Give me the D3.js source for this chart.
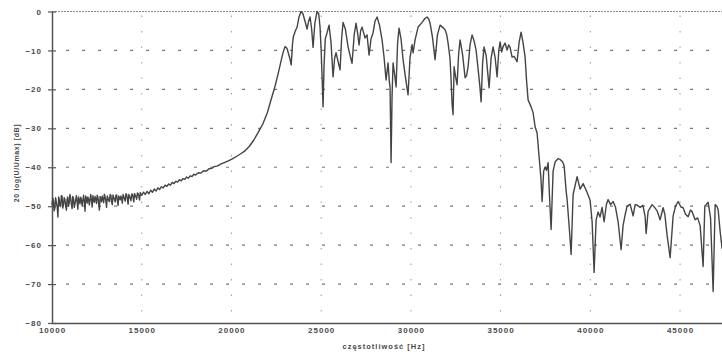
<!DOCTYPE html>
<html>
<head>
<meta charset="utf-8">
<script src="https://cdn.jsdelivr.net/npm/d3@7"></script>
<style>
  body { margin: 0; background: #fff; }
  svg text { font-family: "Liberation Sans", Arial, sans-serif; font-weight: bold; fill: #4a4a4a; }
</style>
</head>
<body>
<div id="chart"></div>
<script>
// frequency [Hz], level [dB]
var lowStop = [
  [10000,-49.8],[10040,-47.9],[10080,-48.6],[10120,-51.2],[10160,-50.4],[10200,-47.8],[10240,-49.0],[10290,-50.2],
  [10330,-52.8],[10370,-47.6],[10400,-48.2],[10440,-49.9],[10480,-50.1],[10520,-47.3],[10560,-47.4],[10600,-50.5],
  [10640,-49.6],[10680,-47.8],[10720,-48.3],[10760,-49.9],[10800,-51.0],[10840,-48.2],[10880,-47.6],[10920,-50.0],
  [10960,-49.2],[11000,-47.0],[11040,-47.9],[11080,-49.5],[11120,-50.6],[11160,-47.5],[11200,-48.0],[11240,-50.3],
  [11280,-49.4],[11320,-48.4],[11360,-47.3],[11400,-48.9],[11440,-50.8],[11480,-47.6],[11520,-48.5],[11560,-49.4],
  [11600,-47.7],[11640,-48.3],[11680,-49.9],[11720,-48.5],[11760,-47.2],[11800,-48.8],[11840,-51.3],[11880,-47.4],
  [11920,-48.1],[11960,-49.2],[12000,-47.6],[12040,-48.4],[12080,-49.7],[12120,-48.2],[12160,-47.0],[12200,-48.6],
  [12240,-50.2],[12280,-47.3],[12320,-48.4],[12360,-49.0],[12400,-47.5],[12440,-48.1],[12480,-49.3],[12520,-47.2],
  [12560,-47.8],[12600,-49.2],[12640,-51.0],[12680,-47.5],[12720,-48.0],[12760,-48.9],[12800,-47.4],[12840,-48.2],
  [12880,-49.1],[12920,-46.9],[12960,-47.7],[13000,-48.6],[13040,-50.3],[13080,-47.4],[13120,-47.9],[13160,-48.6],
  [13200,-48.8],[13240,-47.0],[13280,-47.2],[13320,-48.8],[13360,-49.6],[13400,-47.1],[13440,-47.8],[13480,-48.3],
  [13520,-48.9],[13560,-47.2],[13600,-47.1],[13640,-48.5],[13680,-49.8],[13720,-47.4],[13760,-48.0],[13800,-48.4],
  [13840,-47.4],[13880,-47.9],[13920,-49.2],[13960,-47.0],[14000,-47.6],[14040,-48.1],[14080,-48.7],[14120,-46.8],
  [14160,-47.0],[14200,-48.2],[14240,-49.5],[14280,-47.0],[14320,-47.5],[14360,-48.0],[14400,-48.6],[14440,-46.9],
  [14480,-46.9],[14520,-47.8],[14560,-48.9],[14600,-46.7],[14640,-47.3],[14680,-47.6],[14720,-48.2],[14760,-46.6],
  [14800,-46.8],[14840,-47.5],[14880,-48.4],[14920,-46.5],[14960,-47.0],[15000,-47.2],
  [15100,-46.4],[15200,-47.0],[15300,-46.2],[15400,-46.8],[15500,-45.9],[15600,-46.4],[15700,-45.6],[15800,-46.1],
  [15900,-45.3],[16000,-45.7],[16100,-45.0],[16200,-45.3],[16300,-44.6],[16400,-44.9],[16500,-44.3],[16600,-44.6],
  [16700,-43.9],[16800,-44.2],[16900,-43.6],[17000,-43.8],[17100,-43.2],[17200,-43.5],[17300,-42.9],[17400,-43.1],
  [17500,-42.5],[17600,-42.8],[17700,-42.2],[17800,-42.4],[17900,-41.8],[18000,-42.0],[18150,-41.4],[18300,-41.5],
  [18450,-40.9],[18600,-41.0],[18750,-40.4],[18900,-40.3],[19050,-39.8],[19200,-39.7],[19400,-39.2],[19600,-38.8],
  [19800,-38.4],[20000,-38.0]
];
var riseEdge = [
  [20250,-37.3],[20500,-36.6],[20750,-35.8],[21000,-34.6],[21250,-33.0],[21500,-31.0],[21750,-28.9],[22000,-26.0],
  [22200,-22.8],[22430,-19.2],[22600,-16.0],[22750,-13.0],[22880,-10.5],[22990,-9.0],[23100,-9.5],[23250,-12.0],
  [23330,-13.7],[23400,-8.5],[23450,-6.5],[23560,-5.0],[23660,-4.0],[23760,-1.5]
];
var passBand = [
  [23880,0],[23980,-0.5],[24100,-2.5],[24214,-4.5],[24300,-2.5],[24381,-1.4],[24470,-4.5],[24548,-9.2],
  [24650,-3.0],[24771,0],[24860,-0.5],[24938,-4.0],[25000,-10.0],[25060,-18.0],[25106,-24.5],[25160,-14.0],
  [25230,-7.0],[25329,-5.5],[25440,-3.5],[25550,-8.0],[25663,-16.8],[25750,-12.0],[25830,-10.6],[25950,-13.0],
  [26053,-15.0],[26140,-7.0],[26220,-2.8],[26350,-4.5],[26499,-9.1],[26620,-11.5],[26722,-13.3],[26840,-6.0],
  [26945,-3.0],[27030,-5.5],[27112,-8.6],[27200,-5.0],[27279,-4.0],[27370,-5.5],[27447,-6.8],[27558,-6.0],
  [27670,-11.2],[27780,-7.0],[27893,-5.5],[28000,-2.5],[28116,-1.4],[28250,-3.5],[28394,-7.3],[28500,-11.5],
  [28617,-17.6],[28729,-13.2],[28800,-18.0],[28840,-19.4],[28896,-38.8],[28950,-22.0],[29007,-13.2],[29090,-16.0],
  [29175,-19.4],[29260,-8.0],[29342,-4.3],[29450,-7.0],[29565,-12.4],[29700,-17.0],[29843,-21.4],[29950,-12.0],
  [30066,-8.5],[30122,-10.6],[30234,-7.3],[30401,-4.0],[30624,-2.8],[30780,-1.8],[30903,-1.4],[31000,-2.0],
  [31070,-3.0],[31200,-6.5],[31348,-12.4],[31480,-6.0],[31627,-3.5],[31800,-4.2],[31906,-4.7],[32000,-6.0],
  [32073,-8.1],[32180,-12.0],[32240,-17.6],[32300,-24.0],[32352,-26.5],[32408,-14.2],[32500,-17.0],[32575,-18.8],
  [32660,-11.0],[32742,-7.3],[32880,-11.0],[33021,-17.0],[33100,-16.5],[33188,-14.2],[33300,-8.5],[33411,-6.0],
  [33520,-7.5],[33634,-9.9],[33750,-15.0],[33850,-19.5],[33913,-23.2],[34000,-13.0],[34080,-9.1],[34200,-11.5],
  [34359,-19.6],[34470,-12.0],[34582,-9.1],[34700,-12.0],[34805,-16.8],[34900,-10.0],[34972,-7.8],[35060,-10.4],
  [35139,-9.0],[35250,-8.1],[35362,-9.9],[35450,-8.6],[35529,-9.2],[35640,-11.7],[35752,-11.5],[35919,-12.9],
  [36030,-8.0],[36142,-5.3],[36250,-8.0],[36365,-11.7]
];
var fallEdge = [
  [36450,-18.0],[36532,-22.7],[36700,-24.5],[36811,-26.0],[36922,-29.6],[37034,-31.2],[37146,-37.3],[37250,-43.0],
  [37313,-48.8],[37400,-41.0],[37480,-39.9],[37560,-40.8],[37648,-38.8],[37720,-47.0],[37815,-56.0],[37926,-41.0],
  [38040,-38.6],[38200,-37.8],[38317,-38.0],[38450,-38.6],[38540,-39.6],[38650,-46.0],[38707,-48.3],[38850,-57.0],
  [38930,-62.4]
];
var highStop = [
  [39041,-47.0],[39264,-42.4],[39431,-45.6],[39599,-44.2],[39822,-46.5],[39989,-48.5],[40100,-54.0],[40211,-67.0],
  [40324,-53.5],[40434,-51.5],[40540,-52.8],[40657,-50.3],[40768,-54.0],[40900,-49.5],[40991,-48.3],[41130,-49.6],
  [41270,-48.8],[41400,-50.2],[41549,-54.0],[41716,-61.2],[41827,-54.9],[41950,-52.0],[42050,-50.0],[42217,-49.5],
  [42385,-52.5],[42500,-49.6],[42608,-49.7],[42775,-50.3],[42930,-49.8],[43054,-52.7],[43110,-57.0],[43221,-51.3],
  [43444,-49.6],[43580,-50.3],[43723,-51.2],[43890,-53.5],[43970,-52.0],[44057,-50.4],[44150,-52.0],[44280,-57.5],
  [44448,-63.2],[44615,-52.5],[44750,-50.0],[44894,-48.8],[45050,-50.2],[45173,-50.4],[45300,-52.0],[45451,-52.7],
  [45580,-51.0],[45674,-51.4],[45841,-53.5],[45980,-53.0],[46120,-55.0],[46287,-65.5],[46380,-50.0],[46454,-49.6],
  [46566,-49.0],[46700,-53.0],[46845,-71.9],[46957,-49.6],[47050,-50.0],[47124,-50.9],[47235,-56.5],[47346,-61.0]
];
var xTicks = [10000, 15000, 20000, 25000, 30000, 35000, 40000, 45000];
var yTicks = [0, -10, -20, -30, -40, -50, -60, -70, -80];

var data = lowStop.concat(riseEdge, passBand, fallEdge, highStop);

var width = 722, height = 355;
var plotLeft = 52, plotRight = 724.9, plotTop = 11.5, plotBottom = 323;

var svg = d3.select("#chart").append("svg")
  .attr("width", width)
  .attr("height", height);

var x = d3.scaleLinear().domain([10000, 47500]).range([plotLeft, plotRight]);
var y = d3.scaleLinear().domain([-80, 0]).range([plotBottom, plotTop]);

// horizontal dashed grid
svg.append("g").selectAll("line")
  .data(yTicks.filter(function(d) { return d > -80 && d < 0; }))
  .enter().append("line")
  .attr("x1", plotLeft + 14).attr("x2", width)
  .attr("y1", function(d) { return y(d); })
  .attr("y2", function(d) { return y(d); })
  .style("stroke", "#777")
  .style("stroke-width", "1.2px")
  .style("stroke-dasharray", "3,13");

// vertical dotted grid
svg.append("g").selectAll("line")
  .data(xTicks.slice(1))
  .enter().append("line")
  .attr("x1", function(d) { return x(d); })
  .attr("x2", function(d) { return x(d); })
  .attr("y1", plotTop + 4).attr("y2", plotBottom)
  .style("stroke", "#999")
  .style("stroke-width", "1px")
  .style("stroke-dasharray", "1.5,14");

// top border line at 0 dB
svg.append("line")
  .attr("x1", plotLeft).attr("x2", width)
  .attr("y1", y(0)).attr("y2", y(0))
  .style("stroke", "#888")
  .style("stroke-width", "1px")
  .style("stroke-dasharray", "2,1");

// axes
var xAxis = d3.axisBottom(x).tickValues(xTicks).tickSize(0).tickFormat(d3.format("d"));
var gx = svg.append("g")
  .attr("transform", "translate(0," + plotBottom + ")")
  .call(xAxis);
gx.select("path").style("stroke", "#555").style("stroke-width", "1.5px");
gx.selectAll(".tick text")
  .attr("dy", "0.9em")
  .style("font-size", "8px")
  .style("letter-spacing", "1px");

var yAxis = d3.axisLeft(y).tickValues(yTicks).tickSizeInner(4).tickSizeOuter(0);
var gy = svg.append("g")
  .attr("transform", "translate(" + plotLeft + ",0)")
  .call(yAxis);
gy.select("path").style("stroke", "#555").style("stroke-width", "1.5px");
gy.selectAll(".tick line").attr("x2", 4).attr("x1", -4).style("stroke", "#555").style("stroke-width", "1.2px");
gy.selectAll(".tick text")
  .attr("x", -10)
  .style("font-size", "8px")
  .style("letter-spacing", "1px");

// response curve
var line = d3.line()
  .x(function(d) { return x(d[0]); })
  .y(function(d) { return y(d[1]); });

svg.append("path")
  .datum(data)
  .attr("d", line)
  .style("fill", "none")
  .style("stroke", "#444")
  .style("stroke-width", "1.4px")
  .style("stroke-linejoin", "round");

// axis titles
svg.append("text")
  .attr("x", 384).attr("y", 349)
  .attr("text-anchor", "middle")
  .style("font-size", "7.5px")
  .style("letter-spacing", "1px")
  .text("częstotliwość [Hz]");

svg.append("text")
  .attr("transform", "translate(19,163) rotate(-90)")
  .attr("text-anchor", "middle")
  .style("font-size", "7px")
  .style("letter-spacing", "0.6px")
  .text("20 log(U/Umax) [dB]");
</script>
</body>
</html>
